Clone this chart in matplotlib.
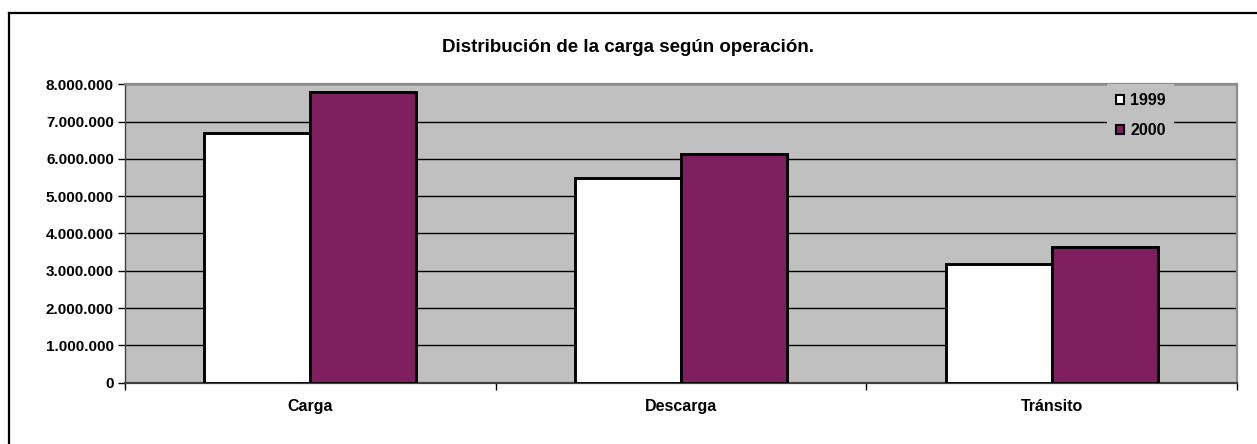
import numpy as np
import matplotlib.pyplot as plt
from matplotlib.patches import Patch
from matplotlib.ticker import FuncFormatter, FixedLocator
from matplotlib.lines import Line2D

categories = ["Carga", "Descarga", "Tránsito"]
years = ["1999", "2000"]
values_1999 = [6690000, 5480000, 3170000]
values_2000 = [7800000, 6140000, 3640000]

plt.rcParams['font.family'] = ['Liberation Sans', 'DejaVu Sans']
plt.rcParams['font.weight'] = 'bold'

W, H = 1257, 444
fig = plt.figure(figsize=(W / 100, H / 100), dpi=100)
fig.patch.set_facecolor('white')

# outer chart border (top and left only visible)
fig.add_artist(Line2D([9 / W, 1.0], [1 - 13 / H, 1 - 13 / H], color='black', lw=1.6))
fig.add_artist(Line2D([9 / W, 9 / W], [0, 1 - 13 / H], color='black', lw=1.6))

left, right = 125 / W, 1237 / W
bottom, top = 1 - 382.7 / H, 1 - 84.3 / H
ax = fig.add_axes([left, bottom, right - left, top - bottom])
ax.set_facecolor('#C0C0C0')

x = np.arange(len(categories))
w = 0.286
ax.bar(x - w / 2, values_1999, w, color='white', edgecolor='black', linewidth=2.1, zorder=3)
ax.bar(x + w / 2, values_2000, w, color='#7F1F5F', edgecolor='black', linewidth=2.1, zorder=3)

ax.set_xlim(-0.5, len(categories) - 0.5)
ax.set_ylim(0, 8000000)
ax.set_yticks(np.arange(0, 8000001, 1000000))
ax.yaxis.set_major_formatter(FuncFormatter(lambda v, p: f"{int(v):,}".replace(",", ".")))
ax.grid(axis='y', color='black', linewidth=1.0, zorder=1)

ax.set_xticks(x)
ax.set_xticklabels(categories, fontsize=11.5, fontweight='bold')
ax.tick_params(axis='x', which='major', length=0, pad=12)
ax.xaxis.set_minor_locator(FixedLocator(np.arange(-0.5, len(categories), 1.0)))
ax.tick_params(axis='x', which='minor', length=5, width=1, color='black')
ax.tick_params(axis='y', length=5, width=1, labelsize=11, pad=3)
for lab in ax.get_yticklabels():
    lab.set_fontweight('bold')

for s in ['top', 'right']:
    ax.spines[s].set_color('#8C8C8C')
    ax.spines[s].set_linewidth(1.6)
ax.spines['bottom'].set_color('#404040')
ax.spines['bottom'].set_linewidth(1.6)
ax.spines['left'].set_color('#404040')
ax.spines['left'].set_linewidth(1.0)

handles = [Patch(facecolor='white', edgecolor='black', linewidth=1.5),
           Patch(facecolor='#7F1F5F', edgecolor='black', linewidth=1.5)]
leg = ax.legend(handles, years, loc='upper left', bbox_to_anchor=(0.883, 1.0),
                frameon=True, fancybox=False, facecolor='#C0C0C0', edgecolor='none',
                framealpha=1.0, handlelength=0.55, handleheight=0.55, handletextpad=0.35,
                labelspacing=0.95, borderpad=0.55, borderaxespad=0.0,
                prop={'size': 11.5, 'weight': 'bold'})
leg.set_zorder(5)

fig.text(0.5, 1 - 47 / H, "Distribución de la carga según operación.", ha='center', va='center',
         fontsize=13.5, fontweight='bold')

fig.savefig("out.png", dpi=100)
